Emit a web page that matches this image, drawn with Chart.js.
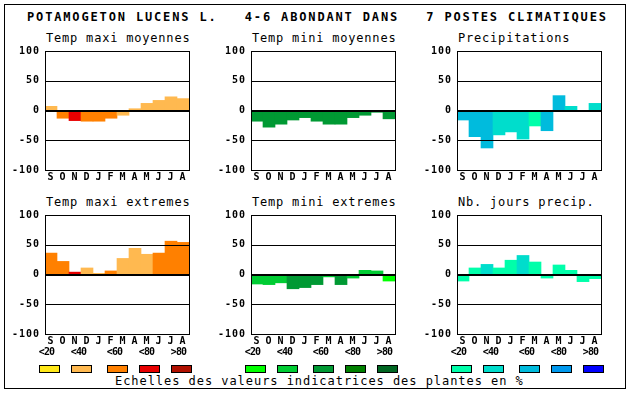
<!DOCTYPE html>
<html>
<head>
<meta charset="utf-8">
<script src="https://cdn.jsdelivr.net/npm/chart.js@4/dist/chart.umd.min.js"></script>
<style>
  html, body { margin:0; padding:0; background:#fff; }
  #page { position:relative; width:630px; height:394px; overflow:hidden; background:#fff; font-family:'DejaVu Sans Mono', monospace; color:#000; }
  .frame { position:absolute; left:4px; top:4px; width:622px; height:385px; border:1px solid #000; box-sizing:border-box; }
  .txt { position:absolute; white-space:pre; line-height:12px; font-size:12px; }
  .main { font-weight:bold; letter-spacing:1.85px; }
  .ptitle { letter-spacing:0.8px; }
  .foot { letter-spacing:0.95px; }
  .lab { position:absolute; white-space:pre; font-size:10px; line-height:10px; font-weight:bold; letter-spacing:-0.9px; }
  .sw { position:absolute; width:21px; height:8px; border:1px solid #000; box-sizing:border-box; }
  canvas { position:absolute; }
</style>
</head>
<body>
<div id="page">
  <div class="frame"></div>
</div>
<script>
// ---------- data ----------
const months = ['S','O','N','D','J','F','M','A','M','J','J','A'];
const classLabels = ['<20','<40','<60','<80','>80'];

const mainTitle = 'POTAMOGETON LUCENS L.   4-6 ABONDANT DANS   7 POSTES CLIMATIQUES';
const footTitle = 'Echelles des valeurs indicatrices des plantes en %';

const titleMaxiMoy = 'Temp maxi moyennes';
const valuesMaxiMoy = [7, -13, -17, -18, -18, -13, -8, 3, 12, 17, 23, 20];
const classMaxiMoy  = [1, 2, 3, 2, 2, 2, 1, 1, 1, 1, 1, 1];

const titleMiniMoy = 'Temp mini moyennes';
const valuesMiniMoy = [-18, -28, -23, -16, -12, -18, -23, -23, -12, -8, -3, -14];
const classMiniMoy  = [2, 2, 2, 2, 2, 2, 2, 2, 2, 2, 2, 2];

const titlePrecip = 'Precipitations';
const valuesPrecip = [-16, -44, -63, -41, -36, -48, -26, -34, 25, 7, 0, 12];
const classPrecip  = [2, 2, 2, 1, 1, 1, 0, 2, 2, 1, 1, 1];

const titleMaxiExt = 'Temp maxi extremes';
const valuesMaxiExt = [36, 22, 4, 11, 2, 6, 27, 44, 34, 36, 56, 54];
const classMaxiExt  = [2, 2, 3, 1, 1, 2, 1, 1, 1, 2, 2, 2];

const titleMiniExt = 'Temp mini extremes';
const valuesMiniExt = [-16, -17, -14, -24, -22, -17, -4, -17, -6, 7, 6, -11];
const classMiniExt  = [1, 1, 1, 2, 2, 2, 1, 2, 1, 1, 1, 0];

const titleJours = 'Nb. jours precip.';
const valuesJours = [-11, 11, 17, 11, 24, 32, 21, -6, 16, 7, -12, -7];
const classJours  = [0, 0, 1, 0, 0, 1, 0, 0, 0, 0, 0, 0];

const yTicks = [-100, -50, 0, 50, 100];

// ---------- styles ----------
const paletteTemp   = ['#FFE818', '#FFB950', '#FF8000', '#E80000', '#B01000'];
const paletteGreen  = ['#00FF00', '#00CC33', '#009933', '#008000', '#006622'];
const paletteBlue   = ['#00FFAA', '#00DDCC', '#00BBDD', '#0099EE', '#0000FF'];

const colLeft = [45, 251, 457];
const rowTop = [50, 214];
const plotW = 144, plotH = 120;

const page = document.getElementById('page');

function addText(cls, text, left, top) {
  const d = document.createElement('div');
  d.className = cls;
  d.textContent = text;
  d.style.left = left + 'px';
  d.style.top = top + 'px';
  page.appendChild(d);
  return d;
}

addText('txt main', mainTitle, 27, 11.3);
addText('txt foot', footTitle, 115, 374.8);

const tickFont = { family: 'DejaVu Sans Mono', size: 10, weight: 'bold' };

const framePlugin = {
  id: 'frameGrid',
  beforeDraw(chart) { chart.ctx.letterSpacing = '1px'; },
  afterDatasetsDraw(chart) {
    const { ctx, chartArea: a, scales: { y } } = chart;
    ctx.save();
    ctx.fillStyle = '#000';
    [50, -50].forEach(v => {
      const py = Math.round(y.getPixelForValue(v));
      ctx.fillRect(a.left, py, a.right - a.left, 1);
    });
    const z = Math.round(y.getPixelForValue(0));
    ctx.fillRect(a.left, z - 1, a.right - a.left, 2);
    ctx.strokeStyle = '#000';
    ctx.lineWidth = 1;
    ctx.strokeRect(a.left + 0.5, a.top + 0.5, a.right - a.left, a.bottom - a.top);
    ctx.restore();
  }
};

function makePanel(col, row, title, values, classes, palette) {
  const pl = colLeft[col], pt = rowTop[row];
  addText('txt ptitle', title, pl + 1, pt - 17.9);
  const cv = document.createElement('canvas');
  const W = 45 + plotW + 6, H = 10 + plotH + 20;
  cv.width = W; cv.height = H;
  cv.style.left = (pl - 45) + 'px';
  cv.style.top = (pt - 10) + 'px';
  cv.style.width = W + 'px'; cv.style.height = H + 'px';
  page.appendChild(cv);
  new Chart(cv, {
    type: 'bar',
    data: {
      labels: months,
      datasets: [{
        data: values,
        backgroundColor: classes.map(c => palette[c]),
        borderWidth: 0,
        barPercentage: 1,
        categoryPercentage: 1
      }]
    },
    options: {
      responsive: false,
      animation: false,
      devicePixelRatio: 1,
      layout: { padding: { top: 10, right: 6, left: 0, bottom: 0 } },
      plugins: { legend: { display: false }, tooltip: { enabled: false } },
      scales: {
        x: {
          grid: { display: false, drawTicks: false },
          border: { display: false },
          ticks: { font: tickFont, color: '#000', padding: 1, maxRotation: 0, autoSkip: false },
          afterFit(s) { s.height = 20; }
        },
        y: {
          min: -100, max: 100,
          afterBuildTicks(s) { s.ticks = yTicks.map(v => ({ value: v })); },
          grid: { display: false, drawTicks: false },
          border: { display: false },
          ticks: { font: tickFont, color: '#000', padding: 5 },
          afterFit(s) { s.width = 45; }
        }
      }
    },
    plugins: [framePlugin]
  });
  // legend under bottom row
  if (row === 1) {
    const swOff = [-6, 26, 62, 94, 126];
    classLabels.forEach((lab, i) => {
      const sw = document.createElement('div');
      sw.className = 'sw';
      sw.style.left = (pl + swOff[i]) + 'px';
      sw.style.top = '365px';
      sw.style.background = palette[i];
      page.appendChild(sw);
      const l = addText('lab', lab, 0, 347.3);
      l.style.left = (pl + swOff[i] + 10.5 - 3) + 'px';
      l.style.transform = 'translateX(-50%)';
    });
  }
}

makePanel(0, 0, titleMaxiMoy, valuesMaxiMoy, classMaxiMoy, paletteTemp);
makePanel(1, 0, titleMiniMoy, valuesMiniMoy, classMiniMoy, paletteGreen);
makePanel(2, 0, titlePrecip, valuesPrecip, classPrecip, paletteBlue);
makePanel(0, 1, titleMaxiExt, valuesMaxiExt, classMaxiExt, paletteTemp);
makePanel(1, 1, titleMiniExt, valuesMiniExt, classMiniExt, paletteGreen);
makePanel(2, 1, titleJours, valuesJours, classJours, paletteBlue);
</script>
</body>
</html>
